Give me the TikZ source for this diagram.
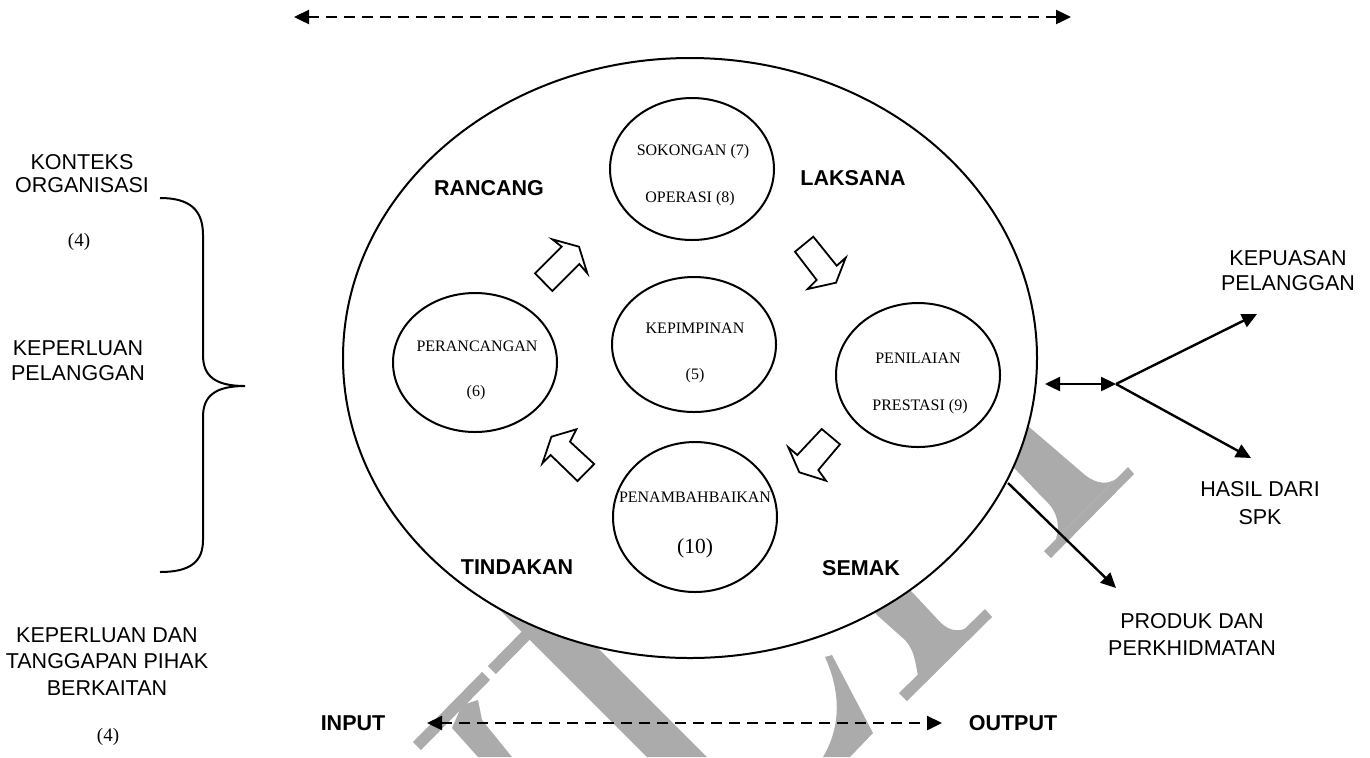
\documentclass[tikz,border=0pt]{standalone}
\usepackage{fontspec}
\setmainfont{Liberation Serif}
\setsansfont{Liberation Sans}
\usetikzlibrary{shapes.geometric,arrows.meta}
\definecolor{wm}{RGB}{171,171,171}
\begin{document}
\begin{tikzpicture}[x=0.5pt,y=-0.5pt,
  sanslbl/.style={font=\sffamily\fontsize{10.75}{#1}\selectfont, align=center, inner sep=0pt},
  sanslbl/.default=12.5,
  boldlbl/.style={font=\sffamily\bfseries\fontsize{10.75}{12.5}\selectfont, inner sep=0pt},
  serlbl/.style={font=\rmfamily\fontsize{8}{9.6}\selectfont, inner sep=0pt},
  bigser/.style={font=\rmfamily\fontsize{#1}{12}\selectfont, inner sep=0pt},
  bubble/.style={ellipse, draw, line width=1pt, fill=white, inner sep=0pt, minimum width=82pt},
  conn/.style={line width=1.2pt},
  headtip/.style={-{Triangle[length=7.5pt,width=7pt]}},
  bothtips/.style={{Triangle[length=7.5pt,width=7pt]}-{Triangle[length=7.5pt,width=7pt]}},
  dashline/.style={line width=1.2pt, dash pattern=on 5.5pt off 3.5pt},
  blockarrow/.style={draw, line width=0.9pt, fill=white, line join=miter},
  wmshape/.style={fill=wm, draw=none}]
\useasboundingbox (0,0) rectangle (1370,757);

% watermark (behind everything)
\fill[wmshape] (545,608) -- (413,742) -- (421,750) -- (553,616) -- cycle;
\fill[wmshape] (490,600) -- (550,600) -- (707,757) -- (647,757) -- cycle;
\fill[wmshape] (462,705) -- (478,700) -- (482,720) -- (512,757) -- (478,757) -- (452,728) -- cycle;
\draw[white, line width=4pt] (482,666) -- (496,680);
\fill[wmshape] (985,609) -- (992,617) -- (907,701) -- (899,693) -- cycle;
\fill[wmshape] (890,570) -- (913,593) -- (940,622) .. controls (950,632) and (960,632) .. (968,627)
  -- (918,676) .. controls (915,660) and (914,650) .. (905,640) -- (877,615) -- (860,595) -- cycle;
\fill[wmshape] (1128,467) -- (1134,474) -- (1051,558) -- (1044,551) -- cycle;
\fill[wmshape] (1000,402) -- (1085,475) .. controls (1098,485) and (1108,484) .. (1116,479)
  -- (1056,539) .. controls (1060,525) and (1058,512) .. (1045,500) -- (990,443) -- cycle;
\fill[wmshape] (825,657) -- (832,655) -- (873,733) -- (850,757) -- (823,757)
  .. controls (842,725) and (840,690) .. (825,657) -- cycle;

% main ellipse
\node[ellipse, draw, line width=1pt, fill=white, inner sep=0pt, minimum width=347pt, minimum height=300pt] (big) at (690,358) {};

% inner ellipses
\node[bubble, minimum height=71pt] (sok) at (692,169) {};
\node[bubble, minimum height=67.5pt] (kep) at (694,344.5) {};
\node[bubble, minimum height=69.5pt] (per) at (475,362.5) {};
\node[bubble, minimum height=72pt] (pen) at (918,375) {};
\node[bubble, minimum height=75pt] (pnb) at (695,517) {};

\node[serlbl] (sok1) at (693,152) {SOKONGAN (7)};
\node[serlbl] (sok2) at (690,199) {OPERASI (8)};
\node[serlbl] (kep1) at (695,328) {KEPIMPINAN};
\node[serlbl] (kep2) at (695,376) {(5)};
\node[serlbl] (per1) at (477,346) {PERANCANGAN};
\node[serlbl] (per2) at (476,393) {(6)};
\node[serlbl] (pen1) at (918,358) {PENILAIAN};
\node[serlbl] (pen2) at (920,407) {PRESTASI (9)};
\node[serlbl] (pnb1) at (695,497) {PENAMBAHBAIKAN};
\node[bigser=10.75] (pnb2) at (695,548) {(10)};

% cycle labels
\node[boldlbl] (rancang) at (489,188) {RANCANG};
\node[boldlbl] (laksana) at (853,178) {LAKSANA};
\node[boldlbl] (tindakan) at (517,567) {TINDAKAN};
\node[boldlbl] (semak) at (861,568) {SEMAK};

% block arrows
\path[blockarrow] (535,273.3) -- (552.3,291) -- (579.3,264) -- (587.3,273.3) -- (579,246.7) -- (552.3,239.3) -- (561.7,246.7) -- cycle;
\path[blockarrow] (813.3,236.7) -- (795,251.7) -- (816.7,280) -- (807.7,289) -- (836,282.7) -- (845.7,257.7) -- (836.7,265.7) -- cycle;
\path[blockarrow] (821.7,429) -- (840,444.3) -- (818.3,470) -- (826,480.7) -- (799.3,472.3) -- (788.3,447.3) -- (797.3,455) -- cycle;
\path[blockarrow] (577.5,481) -- (594.2,464) -- (570,441.7) -- (576.4,429.3) -- (551.4,436.7) -- (542.4,463.3) -- (550.6,455) -- cycle;

% left labels and brace
\node[sanslbl=11.5] (konteks) at (82,173.5) {KONTEKS\\ORGANISASI};
\node[bigser=9.5] (n4a) at (79,242) {(4)};
\node[sanslbl=12.5] (keperluan) at (78,360.5) {KEPERLUAN\\PELANGGAN};
\node[sanslbl=13.25] (pihak) at (107,661.5) {KEPERLUAN DAN\\TANGGAPAN PIHAK\\BERKAITAN};
\node[bigser=9.5] (n4b) at (108,737) {(4)};
\draw[line width=1pt] (160,198) .. controls (190,198) and (203,210) .. (203,235) -- (203,355)
  .. controls (203,376) and (215,386) .. (245,386)
  .. controls (215,386) and (203,396) .. (203,417) -- (203,540)
  .. controls (203,562) and (190,572) .. (160,572);

% dashed arrows
\coordinate (tl) at (294,17);
\coordinate (tr) at (1071,17);
\draw[dashline, bothtips] (tl) -- (tr);
\coordinate (bl) at (427,723);
\coordinate (br) at (942,723);
\draw[dashline, bothtips] (bl) -- (br);
\node[boldlbl] (input) at (353,723) {INPUT};
\node[boldlbl] (output) at (1013,723) {OUTPUT};

% right side connectors
\coordinate (dl) at (1045,384);
\coordinate (jn) at (1116,384);
\coordinate (kpt) at (1257,314);
\coordinate (hst) at (1251,458);
\coordinate (ps) at (1008,483);
\coordinate (pt) at (1116,588);
\draw[conn, bothtips] (dl) -- (jn);
\draw[conn, headtip] (jn) -- (kpt);
\draw[conn, headtip] (jn) -- (hst);
\draw[conn, headtip] (ps) -- (pt);

\node[sanslbl=12.5] (kepuasan) at (1288,270.5) {KEPUASAN\\PELANGGAN};
\node[sanslbl=14] (hasil) at (1260,503) {HASIL DARI\\SPK};
\node[sanslbl=13.5] (produk) at (1192,634.5) {PRODUK DAN\\PERKHIDMATAN};
\end{tikzpicture}
\end{document}
